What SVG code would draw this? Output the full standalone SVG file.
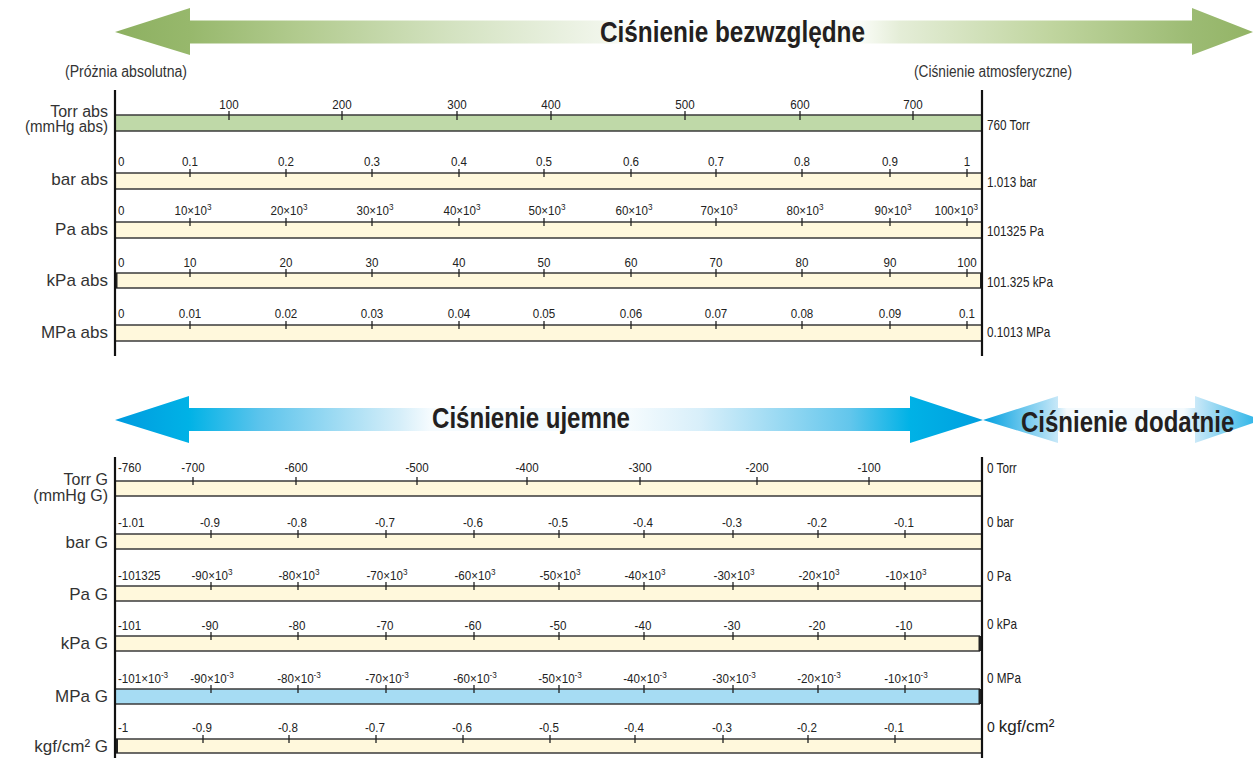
<svg xmlns="http://www.w3.org/2000/svg" width="1253" height="758" viewBox="0 0 1253 758">
<defs>
<style>
.lbl{font-family:'Liberation Sans',Arial,sans-serif;font-size:17px;fill:#333;text-anchor:end}
.lbl2{font-size:16px}
.tk{font-family:'Liberation Sans',Arial,sans-serif;font-size:13.5px;fill:#222;text-anchor:middle;transform:scaleX(0.86);transform-box:fill-box;transform-origin:center}
.tk0{text-anchor:start;transform-origin:left}
.tke{text-anchor:end;transform-origin:right}
.rl{font-family:'Liberation Sans',Arial,sans-serif;font-size:14px;fill:#222;transform:scaleX(0.84);transform-box:fill-box;transform-origin:left}
.rlk{font-family:'Liberation Sans',Arial,sans-serif;font-size:14px;fill:#222}
.big{font-size:17px}
.note{font-family:'Liberation Sans',Arial,sans-serif;font-size:16px;fill:#333}
.sup{font-size:9.5px}
.title{font-family:'Liberation Sans',Arial,sans-serif;font-weight:bold;font-size:30px;fill:#231f20}
.sq{transform:scaleX(0.8);transform-box:fill-box;transform-origin:left}
.bar{fill:#fff8dc}
.edge{stroke:#3a3a3a;stroke-width:1.5;fill:none}
.tick{stroke:#222;stroke-width:1.3}
.axis{stroke:#111;stroke-width:2.2}
.cap{fill:#222}
</style>
<linearGradient id="gGreen" gradientUnits="userSpaceOnUse" x1="115" y1="0" x2="1253" y2="0">
<stop offset="0" stop-color="#8db061"/>
<stop offset="0.066" stop-color="#97b86c"/>
<stop offset="0.163" stop-color="#b2cb8f"/>
<stop offset="0.294" stop-color="#d3e2c0"/>
<stop offset="0.426" stop-color="#f0f5ea"/>
<stop offset="0.461" stop-color="#ffffff"/>
<stop offset="0.655" stop-color="#fafcf7"/>
<stop offset="0.69" stop-color="#e4edd7"/>
<stop offset="0.822" stop-color="#c0d59f"/>
<stop offset="0.946" stop-color="#9cbb73"/>
<stop offset="1" stop-color="#93b466"/>
</linearGradient>
<linearGradient id="gBlue" gradientUnits="userSpaceOnUse" x1="115" y1="0" x2="983" y2="0">
<stop offset="0" stop-color="#009bdf"/>
<stop offset="0.085" stop-color="#00b2e6"/>
<stop offset="0.167" stop-color="#5cc4ec"/>
<stop offset="0.328" stop-color="#d5eef9"/>
<stop offset="0.363" stop-color="#f5fbfe"/>
<stop offset="0.593" stop-color="#f5fbfe"/>
<stop offset="0.674" stop-color="#d8effa"/>
<stop offset="0.847" stop-color="#62c6ec"/>
<stop offset="0.916" stop-color="#00b2e6"/>
<stop offset="1" stop-color="#009fdf"/>
</linearGradient>
<linearGradient id="gPos" gradientUnits="userSpaceOnUse" x1="983" y1="0" x2="1262" y2="0">
<stop offset="0" stop-color="#00a0e0"/>
<stop offset="0.269" stop-color="#c8e8f8"/>
<stop offset="0.3" stop-color="#f4fafd"/>
<stop offset="0.72" stop-color="#f4fafd"/>
<stop offset="0.76" stop-color="#cbe9f8"/>
<stop offset="1" stop-color="#1fb0e6"/>
</linearGradient>
</defs>

<g id="arrows">
<polygon fill="url(#gGreen)" points="115,32 190,8 190,20.5 1192,20.5 1192,8 1253,32 1192,55 1192,43.5 190,43.5 190,55"/>
<polygon fill="url(#gBlue)" points="115,420 189,396 189,408 910,408 910,396 983,420 910,443 910,431 189,431 189,443"/>
<polygon fill="url(#gPos)" points="983,420 1058,396 1058,408 1195,408 1195,396 1262,420 1195,443 1195,431 1058,431 1058,443"/>
<text class="title" x="600" y="42" textLength="265" lengthAdjust="spacingAndGlyphs">Ciśnienie bezwzględne</text>
<text class="title" x="432" y="428" textLength="198" lengthAdjust="spacingAndGlyphs">Ciśnienie ujemne</text>
<text class="title sq" x="1021" y="432">Ciśnienie dodatnie</text>
</g>

<g id="notes">
<text class="note" x="65" y="77" textLength="122" lengthAdjust="spacingAndGlyphs">(Próżnia absolutna)</text>
<text class="note" x="914" y="77" textLength="158" lengthAdjust="spacingAndGlyphs">(Ciśnienie atmosferyczne)</text>
</g>

<!-- ===== Absolute section ===== -->
<g id="row-torr-abs">
<rect x="115" y="115" width="867" height="16" fill="#bfd9a8"/>
<line class="edge" x1="115" y1="115" x2="982" y2="115"/>
<line class="edge" x1="115" y1="131" x2="982" y2="131"/>
<text class="lbl lbl2" x="108" y="117">Torr abs</text>
<text class="lbl lbl2" x="108" y="132" textLength="83" lengthAdjust="spacingAndGlyphs">(mmHg abs)</text>
<g class="tick">
<line x1="229" y1="111" x2="229" y2="120"/><line x1="342" y1="111" x2="342" y2="120"/><line x1="457" y1="111" x2="457" y2="120"/><line x1="551" y1="111" x2="551" y2="120"/><line x1="685" y1="111" x2="685" y2="120"/><line x1="800" y1="111" x2="800" y2="120"/><line x1="913" y1="111" x2="913" y2="120"/>
</g>
<text class="tk" x="229" y="109">100</text><text class="tk" x="342" y="109">200</text><text class="tk" x="457" y="109">300</text><text class="tk" x="551" y="109">400</text><text class="tk" x="685" y="109">500</text><text class="tk" x="800" y="109">600</text><text class="tk" x="913" y="109">700</text>
<text class="rl" x="987" y="130">760 Torr</text>
</g>

<g id="row-bar-abs">
<rect class="bar" x="115" y="173" width="867" height="16"/>
<line class="edge" x1="115" y1="173" x2="982" y2="173"/>
<line class="edge" x1="115" y1="189" x2="982" y2="189"/>
<text class="lbl" x="108" y="185">bar abs</text>
<g class="tick">
<line x1="190" y1="169" x2="190" y2="177"/><line x1="286" y1="169" x2="286" y2="177"/><line x1="372" y1="169" x2="372" y2="177"/><line x1="459" y1="169" x2="459" y2="177"/><line x1="544" y1="169" x2="544" y2="177"/><line x1="631" y1="169" x2="631" y2="177"/><line x1="716" y1="169" x2="716" y2="177"/><line x1="802" y1="169" x2="802" y2="177"/><line x1="890" y1="169" x2="890" y2="177"/><line x1="967" y1="169" x2="967" y2="177"/>
</g>
<text class="tk tk0" x="118" y="166">0</text><text class="tk" x="190" y="166">0.1</text><text class="tk" x="286" y="166">0.2</text><text class="tk" x="372" y="166">0.3</text><text class="tk" x="459" y="166">0.4</text><text class="tk" x="544" y="166">0.5</text><text class="tk" x="631" y="166">0.6</text><text class="tk" x="716" y="166">0.7</text><text class="tk" x="802" y="166">0.8</text><text class="tk" x="890" y="166">0.9</text><text class="tk" x="967" y="166">1</text>
<text class="rl" x="987" y="187">1.013 bar</text>
</g>

<g id="row-pa-abs">
<rect class="bar" x="115" y="222" width="867" height="16"/>
<line class="edge" x1="115" y1="222" x2="982" y2="222"/>
<line class="edge" x1="115" y1="238" x2="982" y2="238"/>
<text class="lbl" x="108" y="235">Pa abs</text>
<g class="tick">
<line x1="190" y1="218" x2="190" y2="226"/><line x1="286" y1="218" x2="286" y2="226"/><line x1="372" y1="218" x2="372" y2="226"/><line x1="459" y1="218" x2="459" y2="226"/><line x1="544" y1="218" x2="544" y2="226"/><line x1="631" y1="218" x2="631" y2="226"/><line x1="716" y1="218" x2="716" y2="226"/><line x1="802" y1="218" x2="802" y2="226"/><line x1="890" y1="218" x2="890" y2="226"/><line x1="967" y1="218" x2="967" y2="226"/>
</g>
<text class="tk tk0" x="118" y="215">0</text>
<text class="tk" x="193" y="215">10×10<tspan class="sup" dy="-5">3</tspan></text>
<text class="tk" x="289" y="215">20×10<tspan class="sup" dy="-5">3</tspan></text>
<text class="tk" x="375" y="215">30×10<tspan class="sup" dy="-5">3</tspan></text>
<text class="tk" x="462" y="215">40×10<tspan class="sup" dy="-5">3</tspan></text>
<text class="tk" x="547" y="215">50×10<tspan class="sup" dy="-5">3</tspan></text>
<text class="tk" x="634" y="215">60×10<tspan class="sup" dy="-5">3</tspan></text>
<text class="tk" x="719" y="215">70×10<tspan class="sup" dy="-5">3</tspan></text>
<text class="tk" x="805" y="215">80×10<tspan class="sup" dy="-5">3</tspan></text>
<text class="tk" x="893" y="215">90×10<tspan class="sup" dy="-5">3</tspan></text>
<text class="tk tke" x="978" y="215">100×10<tspan class="sup" dy="-5">3</tspan></text>
<text class="rl" x="987" y="236">101325 Pa</text>
</g>

<g id="row-kpa-abs">
<rect class="bar" x="115" y="273" width="867" height="15"/>
<line class="edge" x1="115" y1="273" x2="982" y2="273"/>
<line class="edge" x1="115" y1="288" x2="982" y2="288"/>
<rect class="cap" x="115" y="273" width="2.5" height="15"/>
<rect class="cap" x="980" y="273" width="3" height="15"/>
<text class="lbl" x="108" y="286">kPa abs</text>
<g class="tick">
<line x1="190" y1="269" x2="190" y2="277"/><line x1="286" y1="269" x2="286" y2="277"/><line x1="372" y1="269" x2="372" y2="277"/><line x1="459" y1="269" x2="459" y2="277"/><line x1="544" y1="269" x2="544" y2="277"/><line x1="631" y1="269" x2="631" y2="277"/><line x1="716" y1="269" x2="716" y2="277"/><line x1="802" y1="269" x2="802" y2="277"/><line x1="890" y1="269" x2="890" y2="277"/><line x1="967" y1="269" x2="967" y2="277"/>
</g>
<text class="tk tk0" x="118" y="267">0</text><text class="tk" x="190" y="267">10</text><text class="tk" x="286" y="267">20</text><text class="tk" x="372" y="267">30</text><text class="tk" x="459" y="267">40</text><text class="tk" x="544" y="267">50</text><text class="tk" x="631" y="267">60</text><text class="tk" x="716" y="267">70</text><text class="tk" x="802" y="267">80</text><text class="tk" x="890" y="267">90</text><text class="tk" x="967" y="267">100</text>
<text class="rl" x="987" y="287">101.325 kPa</text>
</g>

<g id="row-mpa-abs">
<rect class="bar" x="115" y="325" width="867" height="16"/>
<line class="edge" x1="115" y1="325" x2="982" y2="325"/>
<line class="edge" x1="115" y1="341" x2="982" y2="341"/>
<text class="lbl" x="108" y="338">MPa abs</text>
<g class="tick">
<line x1="190" y1="321" x2="190" y2="329"/><line x1="286" y1="321" x2="286" y2="329"/><line x1="372" y1="321" x2="372" y2="329"/><line x1="459" y1="321" x2="459" y2="329"/><line x1="544" y1="321" x2="544" y2="329"/><line x1="631" y1="321" x2="631" y2="329"/><line x1="716" y1="321" x2="716" y2="329"/><line x1="802" y1="321" x2="802" y2="329"/><line x1="890" y1="321" x2="890" y2="329"/><line x1="967" y1="321" x2="967" y2="329"/>
</g>
<text class="tk tk0" x="118" y="318">0</text><text class="tk" x="190" y="318">0.01</text><text class="tk" x="286" y="318">0.02</text><text class="tk" x="372" y="318">0.03</text><text class="tk" x="459" y="318">0.04</text><text class="tk" x="544" y="318">0.05</text><text class="tk" x="631" y="318">0.06</text><text class="tk" x="716" y="318">0.07</text><text class="tk" x="802" y="318">0.08</text><text class="tk" x="890" y="318">0.09</text><text class="tk" x="967" y="318">0.1</text>
<text class="rl" x="987" y="337">0.1013 MPa</text>
</g>

<!-- ===== Gauge section ===== -->
<g id="row-torr-g">
<rect class="bar" x="115" y="481" width="867" height="15"/>
<line class="edge" x1="115" y1="481" x2="982" y2="481"/>
<line class="edge" x1="115" y1="496" x2="982" y2="496"/>
<text class="lbl lbl2" x="108" y="485">Torr G</text>
<text class="lbl lbl2" x="108" y="501">(mmHg G)</text>
<g class="tick">
<line x1="193" y1="477" x2="193" y2="485"/><line x1="296" y1="477" x2="296" y2="485"/><line x1="417" y1="477" x2="417" y2="485"/><line x1="527" y1="477" x2="527" y2="485"/><line x1="640" y1="477" x2="640" y2="485"/><line x1="757" y1="477" x2="757" y2="485"/><line x1="869" y1="477" x2="869" y2="485"/>
</g>
<text class="tk tk0" x="118" y="472">-760</text><text class="tk" x="193" y="472">-700</text><text class="tk" x="296" y="472">-600</text><text class="tk" x="417" y="472">-500</text><text class="tk" x="527" y="472">-400</text><text class="tk" x="640" y="472">-300</text><text class="tk" x="757" y="472">-200</text><text class="tk" x="869" y="472">-100</text>
<text class="rl" x="987" y="473">0 Torr</text>
</g>

<g id="row-bar-g">
<rect class="bar" x="115" y="534" width="866" height="15"/>
<line class="edge" x1="115" y1="534" x2="981" y2="534"/>
<line class="edge" x1="115" y1="549" x2="981" y2="549"/>
<text class="lbl" x="108" y="548">bar G</text>
<g class="tick">
<line x1="211" y1="530" x2="211" y2="538"/><line x1="298" y1="530" x2="298" y2="538"/><line x1="386" y1="530" x2="386" y2="538"/><line x1="474" y1="530" x2="474" y2="538"/><line x1="559" y1="530" x2="559" y2="538"/><line x1="644" y1="530" x2="644" y2="538"/><line x1="733" y1="530" x2="733" y2="538"/><line x1="818" y1="530" x2="818" y2="538"/><line x1="905" y1="530" x2="905" y2="538"/>
</g>
<text class="tk tk0" x="118" y="527">-1.01</text><text class="tk" x="210" y="527">-0.9</text><text class="tk" x="297" y="527">-0.8</text><text class="tk" x="385" y="527">-0.7</text><text class="tk" x="473" y="527">-0.6</text><text class="tk" x="558" y="527">-0.5</text><text class="tk" x="643" y="527">-0.4</text><text class="tk" x="732" y="527">-0.3</text><text class="tk" x="817" y="527">-0.2</text><text class="tk" x="904" y="527">-0.1</text>
<text class="rl" x="987" y="527">0 bar</text>
</g>

<g id="row-pa-g">
<rect class="bar" x="115" y="586" width="866" height="15"/>
<line class="edge" x1="115" y1="586" x2="981" y2="586"/>
<line class="edge" x1="115" y1="601" x2="981" y2="601"/>
<text class="lbl" x="108" y="600">Pa G</text>
<g class="tick">
<line x1="211" y1="582" x2="211" y2="590"/><line x1="298" y1="582" x2="298" y2="590"/><line x1="386" y1="582" x2="386" y2="590"/><line x1="474" y1="582" x2="474" y2="590"/><line x1="559" y1="582" x2="559" y2="590"/><line x1="644" y1="582" x2="644" y2="590"/><line x1="733" y1="582" x2="733" y2="590"/><line x1="818" y1="582" x2="818" y2="590"/><line x1="905" y1="582" x2="905" y2="590"/>
</g>
<text class="tk tk0" x="118" y="580">-101325</text>
<text class="tk" x="212" y="580">-90×10<tspan class="sup" dy="-5">3</tspan></text>
<text class="tk" x="299" y="580">-80×10<tspan class="sup" dy="-5">3</tspan></text>
<text class="tk" x="387" y="580">-70×10<tspan class="sup" dy="-5">3</tspan></text>
<text class="tk" x="475" y="580">-60×10<tspan class="sup" dy="-5">3</tspan></text>
<text class="tk" x="560" y="580">-50×10<tspan class="sup" dy="-5">3</tspan></text>
<text class="tk" x="645" y="580">-40×10<tspan class="sup" dy="-5">3</tspan></text>
<text class="tk" x="734" y="580">-30×10<tspan class="sup" dy="-5">3</tspan></text>
<text class="tk" x="819" y="580">-20×10<tspan class="sup" dy="-5">3</tspan></text>
<text class="tk" x="906" y="580">-10×10<tspan class="sup" dy="-5">3</tspan></text>
<text class="rl" x="987" y="581">0 Pa</text>
</g>

<g id="row-kpa-g">
<rect class="bar" x="115" y="636" width="865" height="15"/>
<line class="edge" x1="115" y1="636" x2="980" y2="636"/>
<line class="edge" x1="115" y1="651" x2="980" y2="651"/>
<rect class="cap" x="978.5" y="636" width="2.5" height="15"/>
<text class="lbl" x="108" y="649">kPa G</text>
<g class="tick">
<line x1="211" y1="632" x2="211" y2="640"/><line x1="298" y1="632" x2="298" y2="640"/><line x1="386" y1="632" x2="386" y2="640"/><line x1="474" y1="632" x2="474" y2="640"/><line x1="559" y1="632" x2="559" y2="640"/><line x1="644" y1="632" x2="644" y2="640"/><line x1="733" y1="632" x2="733" y2="640"/><line x1="818" y1="632" x2="818" y2="640"/><line x1="905" y1="632" x2="905" y2="640"/>
</g>
<text class="tk tk0" x="118" y="630">-101</text><text class="tk" x="210" y="630">-90</text><text class="tk" x="297" y="630">-80</text><text class="tk" x="385" y="630">-70</text><text class="tk" x="473" y="630">-60</text><text class="tk" x="558" y="630">-50</text><text class="tk" x="643" y="630">-40</text><text class="tk" x="732" y="630">-30</text><text class="tk" x="817" y="630">-20</text><text class="tk" x="904" y="630">-10</text>
<text class="rl" x="987" y="629">0 kPa</text>
</g>

<g id="row-mpa-g">
<rect x="115" y="689" width="865" height="15" fill="#a6dcf3"/>
<line class="edge" x1="115" y1="689" x2="980" y2="689"/>
<line class="edge" x1="115" y1="704" x2="980" y2="704"/>
<rect class="cap" x="978.5" y="689" width="2.5" height="15"/>
<text class="lbl" x="108" y="702">MPa G</text>
<g class="tick">
<line x1="211" y1="685" x2="211" y2="693"/><line x1="298" y1="685" x2="298" y2="693"/><line x1="386" y1="685" x2="386" y2="693"/><line x1="474" y1="685" x2="474" y2="693"/><line x1="559" y1="685" x2="559" y2="693"/><line x1="644" y1="685" x2="644" y2="693"/><line x1="733" y1="685" x2="733" y2="693"/><line x1="818" y1="685" x2="818" y2="693"/><line x1="905" y1="685" x2="905" y2="693"/>
</g>
<text class="tk tk0" x="118" y="683">-101×10<tspan class="sup" dy="-5">-3</tspan></text>
<text class="tk" x="212" y="683">-90×10<tspan class="sup" dy="-5">-3</tspan></text>
<text class="tk" x="299" y="683">-80×10<tspan class="sup" dy="-5">-3</tspan></text>
<text class="tk" x="387" y="683">-70×10<tspan class="sup" dy="-5">-3</tspan></text>
<text class="tk" x="475" y="683">-60×10<tspan class="sup" dy="-5">-3</tspan></text>
<text class="tk" x="560" y="683">-50×10<tspan class="sup" dy="-5">-3</tspan></text>
<text class="tk" x="645" y="683">-40×10<tspan class="sup" dy="-5">-3</tspan></text>
<text class="tk" x="734" y="683">-30×10<tspan class="sup" dy="-5">-3</tspan></text>
<text class="tk" x="819" y="683">-20×10<tspan class="sup" dy="-5">-3</tspan></text>
<text class="tk" x="906" y="683">-10×10<tspan class="sup" dy="-5">-3</tspan></text>
<text class="rl" x="987" y="683">0 MPa</text>
</g>

<g id="row-kgf-g">
<rect class="bar" x="115" y="739" width="866" height="14"/>
<line class="edge" x1="115" y1="739" x2="981" y2="739"/>
<line class="edge" x1="115" y1="753" x2="981" y2="753"/>
<rect class="cap" x="115" y="739" width="3" height="14"/>
<text class="lbl" x="108" y="752">kgf/cm² G</text>
<g class="tick">
<line x1="203" y1="735" x2="203" y2="743"/><line x1="289" y1="735" x2="289" y2="743"/><line x1="376" y1="735" x2="376" y2="743"/><line x1="463" y1="735" x2="463" y2="743"/><line x1="550" y1="735" x2="550" y2="743"/><line x1="635" y1="735" x2="635" y2="743"/><line x1="723" y1="735" x2="723" y2="743"/><line x1="808" y1="735" x2="808" y2="743"/><line x1="895" y1="735" x2="895" y2="743"/>
</g>
<text class="tk tk0" x="118" y="732">-1</text><text class="tk" x="202" y="732">-0.9</text><text class="tk" x="288" y="732">-0.8</text><text class="tk" x="375" y="732">-0.7</text><text class="tk" x="462" y="732">-0.6</text><text class="tk" x="549" y="732">-0.5</text><text class="tk" x="634" y="732">-0.4</text><text class="tk" x="722" y="732">-0.3</text><text class="tk" x="807" y="732">-0.2</text><text class="tk" x="894" y="732">-0.1</text>
<text class="rlk" x="987" y="732">0 <tspan class="big">kgf/cm²</tspan></text>
</g>

<g id="connectors">
<line class="axis" x1="115" y1="90" x2="115" y2="356"/>
<line class="axis" x1="982" y1="90" x2="982" y2="356"/>
<line class="axis" x1="115" y1="457" x2="115" y2="758"/>
<line class="axis" x1="982" y1="457" x2="982" y2="758"/>
</g>
</svg>
